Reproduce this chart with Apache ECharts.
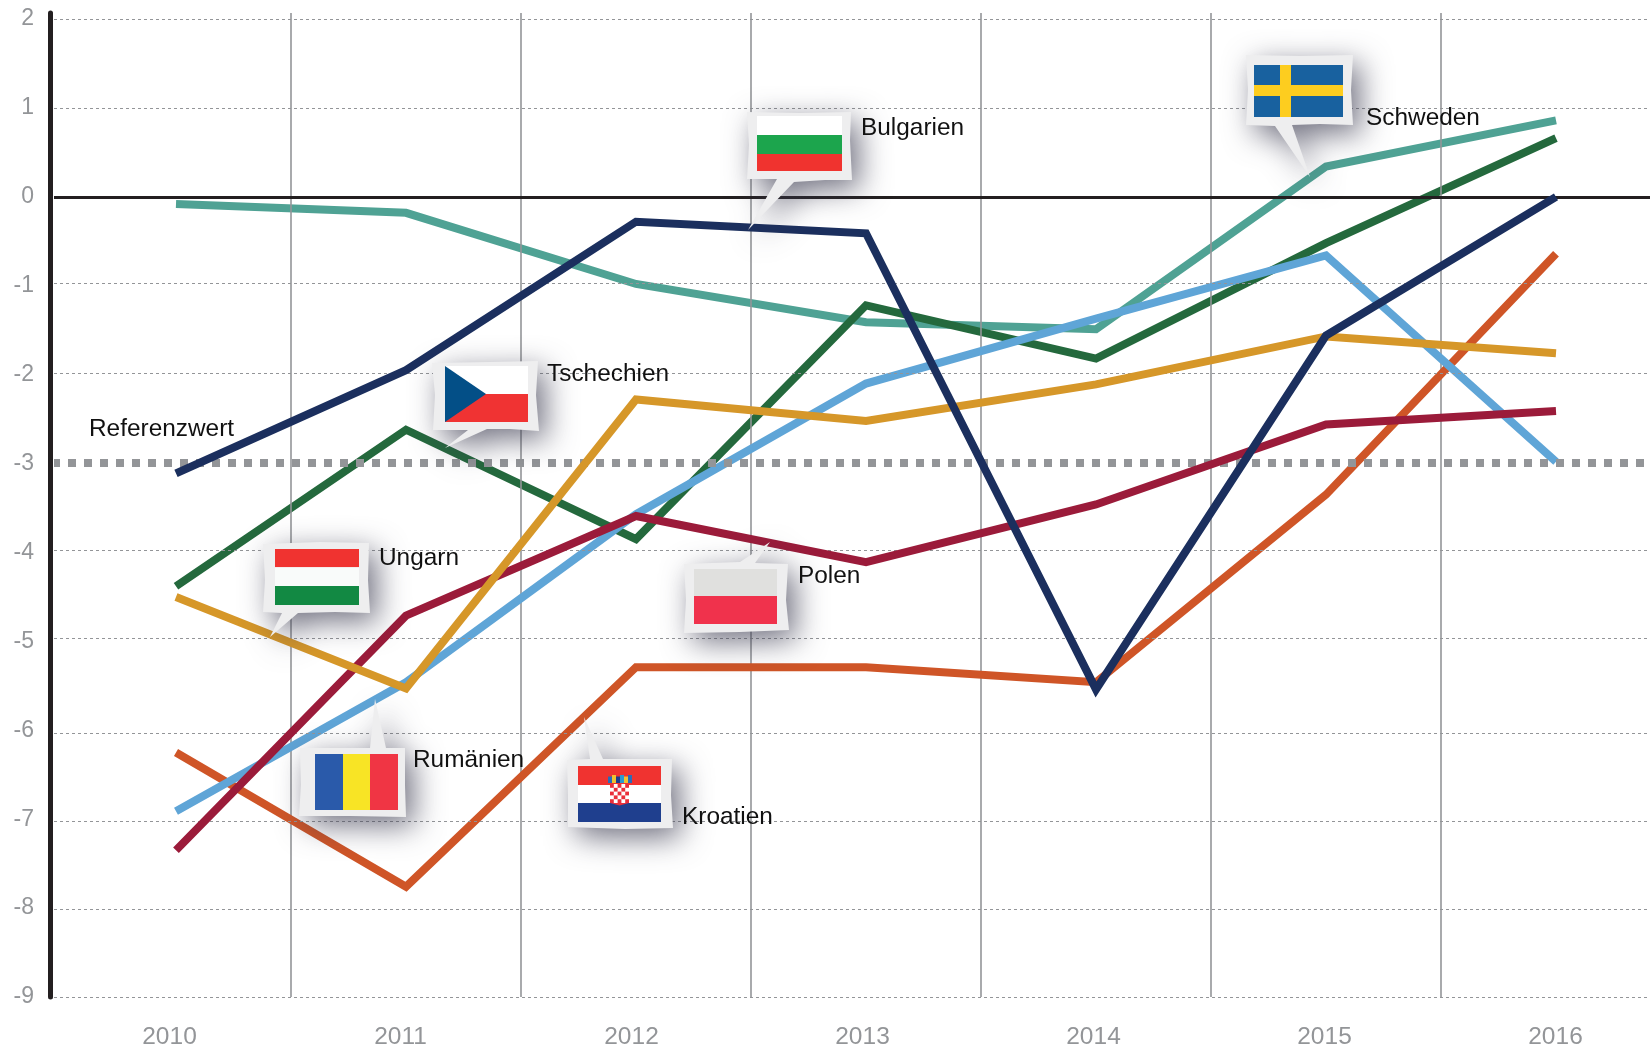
<!DOCTYPE html>
<html lang="de">
<head>
<meta charset="utf-8">
<title>Defizit</title>
<style>html,body{margin:0;padding:0;background:#fff;overflow:hidden}#c{width:1650px;height:1049px}</style>
<script src="https://cdn.jsdelivr.net/npm/echarts@6/dist/echarts.min.js"></script>
</head>
<body>
<div id="c"></div>
<script>
const years = ['2010','2011','2012','2013','2014','2015','2016'];
const yTicks = [-9,-8,-7,-6,-5,-4,-3,-2,-1,0,1,2];
const schweden   = [-0.08,-0.18,-0.98,-1.41,-1.49, 0.34, 0.86];
const tschechien = [-4.38,-2.62,-3.85,-1.22,-1.82,-0.52, 0.66];
const kroatien   = [-6.25,-7.76,-5.29,-5.29,-5.46,-3.35,-0.64];
const polen      = [-6.91,-5.46,-3.57,-2.10,-1.37,-0.66,-2.98];
const rumaenien  = [-7.35,-4.71,-3.59,-4.11,-3.46,-2.56,-2.41];
const ungarn     = [-4.50,-5.53,-2.28,-2.52,-2.11,-1.57,-1.76];
const bulgarien  = [-3.11,-1.95,-0.28,-0.41,-5.54,-1.56, 0.00];
const referenz = -2.99;
// gridlines as they sit in the picture
const gridValues = [2,1,-0.97,-1.99,-3.98,-4.97,-6.03,-7.02,-8.01,-9];
const nullLinie = -0.013;

const GRAY = '#939598', BLACK = '#231f20', FONT = '"Liberation Sans", Arial, sans-serif';
const yMin = -9, yMax = 2.0675;

function lineSeries(name, data, color, z) {
  return {name, type:'line', data, xAxisIndex:1, yAxisIndex:1, z, symbol:'none', smooth:false,
    clip:false, lineStyle:{color, width:8, join:'miter', cap:'butt', miterLimit:10}, silent:true};
}
const flagZ = 50;
const rect = (x,y,w,h,fill) => ({type:'rect', z:flagZ+1, silent:true, shape:{x,y,width:w,height:h}, style:{fill}});
const label = (text,x,y) => ({type:'text', z:flagZ+2, silent:true, style:{text, x, y, fill:'#111', font:'24.4px '+FONT, textVerticalAlign:'middle', verticalAlign:'middle'}});
const bubble = pts => ({type:'polygon', z:flagZ, silent:true, shape:{points:pts},
  style:{fill:'#eeeeef', shadowBlur:30, shadowColor:'rgba(60,60,80,0.72)', shadowOffsetX:8, shadowOffsetY:9}});

const shapes = [
  label('Referenzwert',89,429),

  // Bulgarien
  bubble([[747,112],[800,113],[851,112],[850,140],[852,180],[825,180],[794,182],[748,230],[777,179],[747,179],[749,145]]),
  rect(757,116,85,19,'#ffffff'), rect(757,135,85,19,'#1ca54d'), rect(757,154,85,17,'#f0332f'),
  label('Bulgarien',861,128),

  // Schweden
  bubble([[1246,55],[1300,56],[1353,55],[1351,90],[1353,125],[1320,124],[1292,125],[1310,177],[1275,126],[1246,125],[1248,90]]),
  rect(1254,65,89,52,'#18619f'), rect(1280,65,11,52,'#fdcd1f'), rect(1254,85,89,11,'#fdcd1f'),
  label('Schweden',1366,118),

  // Tschechien
  bubble([[432,363],[490,362],[538,361],[536,395],[539,431],[510,429],[487,429],[445,448],[468,430],[433,430],[435,395]]),
  rect(445,366,83,28,'#ffffff'), rect(445,394,83,28,'#f03333'),
  {type:'polygon', z:flagZ+1, silent:true, shape:{points:[[445,366],[486,394],[445,422]]}, style:{fill:'#034f87'}},
  label('Tschechien',547,374),

  // Ungarn
  bubble([[263,544],[320,542],[369,543],[368,580],[370,613],[335,612],[298,613],[270,637],[282,613],[263,612],[265,580]]),
  rect(275,549,84,18.3,'#f03330'), rect(275,567.3,84,18.7,'#f9fbfa'), rect(275,586,84,19,'#128943'),
  label('Ungarn',379,558),

  // Polen
  bubble([[684,564],[740,562],[770,542],[755,563],[788,564],[786,600],[789,630],[740,632],[684,633],[686,600]]),
  rect(694,569,83,27,'#e0e0de'), rect(694,596,83,28,'#f0324c'),
  label('Polen',798,576),

  // Rumänien
  bubble([[300,748],[370,748],[375,699],[386,748],[405,748],[405,785],[406,817],[350,816],[299,816],[301,785]]),
  rect(315,754,28,56,'#2a5aaa'), rect(343,754,27,56,'#f8e425'), rect(370,754,28,56,'#f03544'),
  label('Rumänien',413,760),

  // Kroatien
  bubble([[567,760],[590,759],[584,717],[603,759],[672,759],[671,795],[673,828],[625,829],[568,827],[568,795]]),
  rect(578,766,83,19,'#f03330'), rect(578,785,83,18,'#ffffff'), rect(578,803,83,19,'#1f3f8e'),
  label('Kroatien',682,817)
];

// Croatian coat of arms
shapes.push(rect(610,784,19,17,'#ffffff'));
const cell = 3.8;
for (let r=0;r<5;r++) for (let c=0;c<5;c++) if ((r+c)%2===0) shapes.push(rect(610+c*cell,784+r*cell,cell,cell,'#ea2f3a'));
shapes.push({type:'polygon', z:flagZ+1, silent:true, shape:{points:[[610,803],[619.5,805.5],[629,803]]}, style:{fill:'#ea2f3a'}});
[['#2b6cb8',608],['#f2c230',612],['#1f3f8e',616],['#2b9ad0',620],['#f2c230',624],['#2b6cb8',628]].forEach(([f,x],i)=>{
  shapes.push(rect(x,i%2?775:776.5,4,i%2?8:6.5,f));
});

const chart = echarts.init(document.getElementById('c'), null, {renderer:'canvas', width:1650, height:1049});
chart.setOption({
  animation:false, backgroundColor:'#fff',
  grid:[
    {left:54, top:13, width:1617, height:984, containLabel:false, outerBoundsMode:'none'},
    {left:61, top:13, width:1610, height:984, containLabel:false, outerBoundsMode:'none'}
  ],
  xAxis:[
    {gridIndex:0, type:'category', data:years, boundaryGap:true, position:'bottom', axisLine:{show:false}, axisTick:{show:false}, splitLine:{show:false},
     axisLabel:{color:GRAY, fontFamily:FONT, fontSize:24.5, margin:28, interval:0}},
    {gridIndex:1, type:'category', data:years, boundaryGap:true, z:1, axisLine:{show:false}, axisTick:{show:false}, axisLabel:{show:false},
     splitLine:{show:true, showMinLine:false, interval:0, lineStyle:{color:GRAY, width:1.6}}}
  ],
  yAxis:[
    {gridIndex:0, type:'value', min:yMin, max:yMax, offset:4, splitLine:{show:false}, axisTick:{show:false},
     axisLine:{show:true, onZero:false, lineStyle:{color:BLACK, width:5}},
     axisLabel:{color:GRAY, fontFamily:FONT, fontSize:23, margin:16, customValues:yTicks, padding:[0,0,10,0], formatter:v=>String(Math.round(v))}},
    {gridIndex:1, type:'value', min:yMin, max:yMax, show:false}
  ],
  series:[
    {type:'line', data:[], xAxisIndex:0, yAxisIndex:0, z:0, silent:true,
     markLine:{silent:true, symbol:'none', label:{show:false}, animation:false,
       lineStyle:{color:GRAY, width:1, type:[3,3]},
       data:gridValues.map(v=>({yAxis:v}))}},
    lineSeries('Schweden', schweden, '#4fa294', 0),
    lineSeries('Tschechien', tschechien, '#24693d', 0),
    {type:'line', data:[], xAxisIndex:0, yAxisIndex:0, z:2, silent:true,
     markLine:{silent:true, symbol:'none', label:{show:false}, animation:false,
       lineStyle:{color:BLACK, width:3, type:'solid'}, data:[{yAxis:nullLinie}]}},
    lineSeries('Kroatien', kroatien, '#cf5527', 3),
    lineSeries('Polen', polen, '#5fa5d7', 4),
    lineSeries('Rumänien', rumaenien, '#9b1b3a', 5),
    lineSeries('Ungarn', ungarn, '#d69729', 6),
    {type:'line', data:[], xAxisIndex:0, yAxisIndex:0, z:7, silent:true,
     markLine:{silent:true, symbol:'none', label:{show:false}, animation:false,
       lineStyle:{color:GRAY, width:8, type:[8,8], dashOffset:2}, data:[{yAxis:referenz}]}},
    lineSeries('Bulgarien', bulgarien, '#1b2f5e', 8)
  ],
  graphic:{elements:shapes}
});
</script>
</body>
</html>
